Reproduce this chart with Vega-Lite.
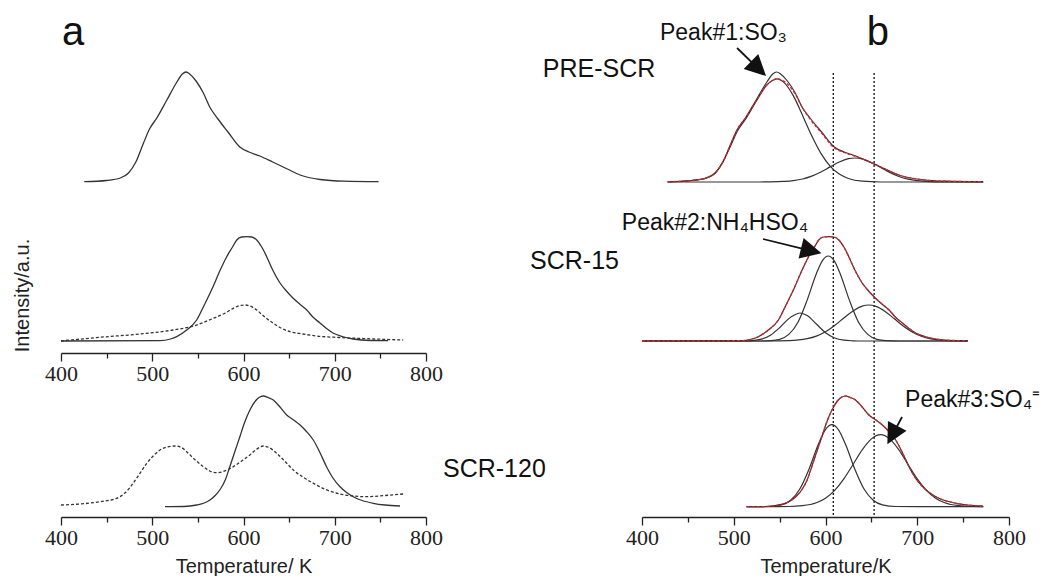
{
  "$schema": "https://vega.github.io/schema/vega-lite/v6.json",
  "padding": {"left": 12, "top": 10, "right": 0, "bottom": 0},
  "background": "white",
  "bounds": "flush",
  "spacing": 216,
  "config": {
    "view": {"stroke": null},
    "font": "Liberation Sans"
  },
  "datasets": {
    "left": [
      {"s": "pre", "k": "solid", "T": 425.5, "I": 335.3},
      {"s": "pre", "k": "solid", "T": 450, "I": 336.5},
      {"s": "pre", "k": "solid", "T": 465, "I": 339},
      {"s": "pre", "k": "solid", "T": 474, "I": 344},
      {"s": "pre", "k": "solid", "T": 482, "I": 355},
      {"s": "pre", "k": "solid", "T": 490, "I": 373},
      {"s": "pre", "k": "solid", "T": 497, "I": 388},
      {"s": "pre", "k": "solid", "T": 505, "I": 399},
      {"s": "pre", "k": "solid", "T": 516, "I": 417},
      {"s": "pre", "k": "solid", "T": 527, "I": 435},
      {"s": "pre", "k": "solid", "T": 533, "I": 443},
      {"s": "pre", "k": "solid", "T": 537, "I": 445},
      {"s": "pre", "k": "solid", "T": 541, "I": 443},
      {"s": "pre", "k": "solid", "T": 548, "I": 436},
      {"s": "pre", "k": "solid", "T": 556, "I": 424},
      {"s": "pre", "k": "solid", "T": 563, "I": 410},
      {"s": "pre", "k": "solid", "T": 572, "I": 398},
      {"s": "pre", "k": "solid", "T": 583, "I": 385},
      {"s": "pre", "k": "solid", "T": 596, "I": 370},
      {"s": "pre", "k": "solid", "T": 606, "I": 365},
      {"s": "pre", "k": "solid", "T": 618, "I": 361},
      {"s": "pre", "k": "solid", "T": 632, "I": 355},
      {"s": "pre", "k": "solid", "T": 648, "I": 348},
      {"s": "pre", "k": "solid", "T": 662, "I": 342},
      {"s": "pre", "k": "solid", "T": 684, "I": 337.5},
      {"s": "pre", "k": "solid", "T": 710, "I": 335.8},
      {"s": "pre", "k": "solid", "T": 748, "I": 335.3},

      {"s": "s15", "k": "solid", "T": 400, "I": 176},
      {"s": "s15", "k": "solid", "T": 508.5, "I": 176.3},
      {"s": "s15", "k": "solid", "T": 520, "I": 178},
      {"s": "s15", "k": "solid", "T": 526.8, "I": 180.3},
      {"s": "s15", "k": "solid", "T": 537.7, "I": 187},
      {"s": "s15", "k": "solid", "T": 548.7, "I": 197},
      {"s": "s15", "k": "solid", "T": 557, "I": 212},
      {"s": "s15", "k": "solid", "T": 566.6, "I": 230.3},
      {"s": "s15", "k": "solid", "T": 574, "I": 246},
      {"s": "s15", "k": "solid", "T": 581.6, "I": 260.3},
      {"s": "s15", "k": "solid", "T": 588, "I": 270},
      {"s": "s15", "k": "solid", "T": 592.6, "I": 277},
      {"s": "s15", "k": "solid", "T": 598, "I": 280},
      {"s": "s15", "k": "solid", "T": 603.5, "I": 280.3},
      {"s": "s15", "k": "solid", "T": 609, "I": 280},
      {"s": "s15", "k": "solid", "T": 614.5, "I": 277},
      {"s": "s15", "k": "solid", "T": 620, "I": 270},
      {"s": "s15", "k": "solid", "T": 625.4, "I": 260.3},
      {"s": "s15", "k": "solid", "T": 632, "I": 247},
      {"s": "s15", "k": "solid", "T": 640, "I": 234},
      {"s": "s15", "k": "solid", "T": 647, "I": 226},
      {"s": "s15", "k": "solid", "T": 654.2, "I": 219},
      {"s": "s15", "k": "solid", "T": 661.5, "I": 213},
      {"s": "s15", "k": "solid", "T": 669.3, "I": 207},
      {"s": "s15", "k": "solid", "T": 676, "I": 200},
      {"s": "s15", "k": "solid", "T": 683.8, "I": 194},
      {"s": "s15", "k": "solid", "T": 691, "I": 188.5},
      {"s": "s15", "k": "solid", "T": 698.1, "I": 184},
      {"s": "s15", "k": "solid", "T": 708, "I": 180.5},
      {"s": "s15", "k": "solid", "T": 720, "I": 178},
      {"s": "s15", "k": "solid", "T": 740, "I": 176.5},
      {"s": "s15", "k": "solid", "T": 758.4, "I": 176.3},

      {"s": "s15d", "k": "dash", "T": 400, "I": 176},
      {"s": "s15d", "k": "dash", "T": 442.7, "I": 179.7},
      {"s": "s15d", "k": "dash", "T": 486.6, "I": 183},
      {"s": "s15d", "k": "dash", "T": 523, "I": 187},
      {"s": "s15d", "k": "dash", "T": 545, "I": 191},
      {"s": "s15d", "k": "dash", "T": 567, "I": 198.7},
      {"s": "s15d", "k": "dash", "T": 580, "I": 204},
      {"s": "s15d", "k": "dash", "T": 588.8, "I": 208.7},
      {"s": "s15d", "k": "dash", "T": 596, "I": 211.5},
      {"s": "s15d", "k": "dash", "T": 601.6, "I": 212},
      {"s": "s15d", "k": "dash", "T": 607, "I": 211},
      {"s": "s15d", "k": "dash", "T": 614.5, "I": 207},
      {"s": "s15d", "k": "dash", "T": 622, "I": 201},
      {"s": "s15d", "k": "dash", "T": 632.7, "I": 193.7},
      {"s": "s15d", "k": "dash", "T": 641, "I": 189},
      {"s": "s15d", "k": "dash", "T": 651, "I": 185.3},
      {"s": "s15d", "k": "dash", "T": 665, "I": 183},
      {"s": "s15d", "k": "dash", "T": 680, "I": 181},
      {"s": "s15d", "k": "dash", "T": 705, "I": 179.5},
      {"s": "s15d", "k": "dash", "T": 735, "I": 178.3},
      {"s": "s15d", "k": "dash", "T": 775, "I": 177},

      {"s": "s120", "k": "solid", "T": 514, "I": 10.3},
      {"s": "s120", "k": "solid", "T": 535, "I": 10.5},
      {"s": "s120", "k": "solid", "T": 548.7, "I": 12},
      {"s": "s120", "k": "solid", "T": 557, "I": 14},
      {"s": "s120", "k": "solid", "T": 563.3, "I": 17},
      {"s": "s120", "k": "solid", "T": 569, "I": 21.5},
      {"s": "s120", "k": "solid", "T": 574, "I": 27},
      {"s": "s120", "k": "solid", "T": 580, "I": 37},
      {"s": "s120", "k": "solid", "T": 585, "I": 50.3},
      {"s": "s120", "k": "solid", "T": 590, "I": 64},
      {"s": "s120", "k": "solid", "T": 596, "I": 80.3},
      {"s": "s120", "k": "solid", "T": 601, "I": 94},
      {"s": "s120", "k": "solid", "T": 607, "I": 107},
      {"s": "s120", "k": "solid", "T": 613, "I": 116},
      {"s": "s120", "k": "solid", "T": 617, "I": 119.5},
      {"s": "s120", "k": "solid", "T": 621.7, "I": 121},
      {"s": "s120", "k": "solid", "T": 627, "I": 119.5},
      {"s": "s120", "k": "solid", "T": 632.7, "I": 117},
      {"s": "s120", "k": "solid", "T": 640, "I": 110},
      {"s": "s120", "k": "solid", "T": 647.3, "I": 102},
      {"s": "s120", "k": "solid", "T": 655, "I": 97},
      {"s": "s120", "k": "solid", "T": 662, "I": 92},
      {"s": "s120", "k": "solid", "T": 669, "I": 85.5},
      {"s": "s120", "k": "solid", "T": 676.5, "I": 77},
      {"s": "s120", "k": "solid", "T": 684, "I": 64},
      {"s": "s120", "k": "solid", "T": 691, "I": 50.3},
      {"s": "s120", "k": "solid", "T": 698, "I": 39},
      {"s": "s120", "k": "solid", "T": 705.8, "I": 30.3},
      {"s": "s120", "k": "solid", "T": 713, "I": 24.5},
      {"s": "s120", "k": "solid", "T": 720.3, "I": 20.3},
      {"s": "s120", "k": "solid", "T": 730, "I": 16.5},
      {"s": "s120", "k": "solid", "T": 742.3, "I": 13.7},
      {"s": "s120", "k": "solid", "T": 755, "I": 12},
      {"s": "s120", "k": "solid", "T": 771.5, "I": 11},

      {"s": "s120d", "k": "dash", "T": 400, "I": 12},
      {"s": "s120d", "k": "dash", "T": 442.7, "I": 15.3},
      {"s": "s120d", "k": "dash", "T": 461, "I": 18.7},
      {"s": "s120d", "k": "dash", "T": 470, "I": 24},
      {"s": "s120d", "k": "dash", "T": 479, "I": 33.7},
      {"s": "s120d", "k": "dash", "T": 486, "I": 43},
      {"s": "s120d", "k": "dash", "T": 494, "I": 53.7},
      {"s": "s120d", "k": "dash", "T": 501, "I": 61},
      {"s": "s120d", "k": "dash", "T": 508.5, "I": 67},
      {"s": "s120d", "k": "dash", "T": 516, "I": 70},
      {"s": "s120d", "k": "dash", "T": 525, "I": 71},
      {"s": "s120d", "k": "dash", "T": 532, "I": 69.5},
      {"s": "s120d", "k": "dash", "T": 537.7, "I": 65.3},
      {"s": "s120d", "k": "dash", "T": 546, "I": 58},
      {"s": "s120d", "k": "dash", "T": 556, "I": 50.3},
      {"s": "s120d", "k": "dash", "T": 563, "I": 46},
      {"s": "s120d", "k": "dash", "T": 570.6, "I": 44.3},
      {"s": "s120d", "k": "dash", "T": 578, "I": 45.5},
      {"s": "s120d", "k": "dash", "T": 588.8, "I": 50.3},
      {"s": "s120d", "k": "dash", "T": 598, "I": 56},
      {"s": "s120d", "k": "dash", "T": 607, "I": 62},
      {"s": "s120d", "k": "dash", "T": 614, "I": 67.5},
      {"s": "s120d", "k": "dash", "T": 621.7, "I": 71},
      {"s": "s120d", "k": "dash", "T": 628, "I": 69.5},
      {"s": "s120d", "k": "dash", "T": 636.4, "I": 63.7},
      {"s": "s120d", "k": "dash", "T": 645, "I": 56},
      {"s": "s120d", "k": "dash", "T": 654.6, "I": 47},
      {"s": "s120d", "k": "dash", "T": 665, "I": 40},
      {"s": "s120d", "k": "dash", "T": 676.5, "I": 33.7},
      {"s": "s120d", "k": "dash", "T": 690, "I": 27.5},
      {"s": "s120d", "k": "dash", "T": 705.8, "I": 23},
      {"s": "s120d", "k": "dash", "T": 720, "I": 21},
      {"s": "s120d", "k": "dash", "T": 735, "I": 20.3},
      {"s": "s120d", "k": "dash", "T": 755, "I": 21.5},
      {"s": "s120d", "k": "dash", "T": 775, "I": 23}
    ],
    "right": [
      {"s": "m1", "k": "meas", "T": 428.0, "I": 335.3},
      {"s": "m1", "k": "meas", "T": 454.1, "I": 336.5},
      {"s": "m1", "k": "meas", "T": 470.1, "I": 339},
      {"s": "m1", "k": "meas", "T": 479.7, "I": 344},
      {"s": "m1", "k": "meas", "T": 488.2, "I": 355},
      {"s": "m1", "k": "meas", "T": 496.7, "I": 373},
      {"s": "m1", "k": "meas", "T": 504.1, "I": 388},
      {"s": "m1", "k": "meas", "T": 512.7, "I": 399},
      {"s": "m1", "k": "meas", "T": 524.4, "I": 417},
      {"s": "m1", "k": "meas", "T": 536.1, "I": 435},
      {"s": "m1", "k": "meas", "T": 542.5, "I": 443},
      {"s": "m1", "k": "meas", "T": 546.7, "I": 445},
      {"s": "m1", "k": "meas", "T": 551.0, "I": 443},
      {"s": "m1", "k": "meas", "T": 558.5, "I": 436},
      {"s": "m1", "k": "meas", "T": 567.0, "I": 424},
      {"s": "m1", "k": "meas", "T": 574.4, "I": 410},
      {"s": "m1", "k": "meas", "T": 584.0, "I": 398},
      {"s": "m1", "k": "meas", "T": 595.7, "I": 385},
      {"s": "m1", "k": "meas", "T": 609.6, "I": 370},
      {"s": "m1", "k": "meas", "T": 620.3, "I": 365},
      {"s": "m1", "k": "meas", "T": 633.1, "I": 361},
      {"s": "m1", "k": "meas", "T": 648.0, "I": 355},
      {"s": "m1", "k": "meas", "T": 665.0, "I": 348},
      {"s": "m1", "k": "meas", "T": 679.9, "I": 342},
      {"s": "m1", "k": "meas", "T": 703.3, "I": 337.5},
      {"s": "m1", "k": "meas", "T": 731.0, "I": 335.8},
      {"s": "m1", "k": "meas", "T": 771.5, "I": 335.3},

      {"s": "f1", "k": "fit", "T": 428.0, "I": 335.3},
      {"s": "f1", "k": "fit", "T": 454.1, "I": 336.5},
      {"s": "f1", "k": "fit", "T": 470.1, "I": 339},
      {"s": "f1", "k": "fit", "T": 479.7, "I": 344},
      {"s": "f1", "k": "fit", "T": 488.2, "I": 355},
      {"s": "f1", "k": "fit", "T": 496.7, "I": 373},
      {"s": "f1", "k": "fit", "T": 504.1, "I": 388},
      {"s": "f1", "k": "fit", "T": 512.7, "I": 399},
      {"s": "f1", "k": "fit", "T": 524.4, "I": 416},
      {"s": "f1", "k": "fit", "T": 536.1, "I": 432},
      {"s": "f1", "k": "fit", "T": 542.5, "I": 436.5},
      {"s": "f1", "k": "fit", "T": 547, "I": 438.3},
      {"s": "f1", "k": "fit", "T": 551.0, "I": 437.5},
      {"s": "f1", "k": "fit", "T": 558.5, "I": 433},
      {"s": "f1", "k": "fit", "T": 567.0, "I": 423},
      {"s": "f1", "k": "fit", "T": 574.4, "I": 410},
      {"s": "f1", "k": "fit", "T": 584.0, "I": 397},
      {"s": "f1", "k": "fit", "T": 595.7, "I": 384},
      {"s": "f1", "k": "fit", "T": 609.6, "I": 369},
      {"s": "f1", "k": "fit", "T": 620.3, "I": 364.5},
      {"s": "f1", "k": "fit", "T": 633.1, "I": 360.5},
      {"s": "f1", "k": "fit", "T": 648.0, "I": 355},
      {"s": "f1", "k": "fit", "T": 665.0, "I": 348},
      {"s": "f1", "k": "fit", "T": 679.9, "I": 342},
      {"s": "f1", "k": "fit", "T": 703.3, "I": 337.5},
      {"s": "f1", "k": "fit", "T": 731.0, "I": 335.8},
      {"s": "f1", "k": "fit", "T": 771.5, "I": 335.3},

      {"s": "c1a", "k": "comp", "T": 428, "I": 335},
      {"s": "c1a", "k": "comp", "T": 454, "I": 336.5},
      {"s": "c1a", "k": "comp", "T": 470, "I": 339},
      {"s": "c1a", "k": "comp", "T": 480, "I": 344},
      {"s": "c1a", "k": "comp", "T": 488, "I": 355},
      {"s": "c1a", "k": "comp", "T": 497, "I": 372},
      {"s": "c1a", "k": "comp", "T": 504, "I": 386},
      {"s": "c1a", "k": "comp", "T": 513, "I": 398},
      {"s": "c1a", "k": "comp", "T": 524, "I": 415},
      {"s": "c1a", "k": "comp", "T": 536, "I": 432},
      {"s": "c1a", "k": "comp", "T": 542, "I": 436.5},
      {"s": "c1a", "k": "comp", "T": 547, "I": 438.2},
      {"s": "c1a", "k": "comp", "T": 555, "I": 434.4},
      {"s": "c1a", "k": "comp", "T": 565, "I": 421.1},
      {"s": "c1a", "k": "comp", "T": 575, "I": 401.6},
      {"s": "c1a", "k": "comp", "T": 585, "I": 381.2},
      {"s": "c1a", "k": "comp", "T": 595, "I": 363.6},
      {"s": "c1a", "k": "comp", "T": 605, "I": 350.9},
      {"s": "c1a", "k": "comp", "T": 615, "I": 342.9},
      {"s": "c1a", "k": "comp", "T": 625, "I": 338.5},
      {"s": "c1a", "k": "comp", "T": 640, "I": 335.8},
      {"s": "c1a", "k": "comp", "T": 660, "I": 335},
      {"s": "c1a", "k": "comp", "T": 772, "I": 335},

      {"s": "c1b", "k": "comp", "T": 428, "I": 335},
      {"s": "c1b", "k": "comp", "T": 520, "I": 335},
      {"s": "c1b", "k": "comp", "T": 540, "I": 335.1},
      {"s": "c1b", "k": "comp", "T": 555, "I": 335.6},
      {"s": "c1b", "k": "comp", "T": 565, "I": 336.4},
      {"s": "c1b", "k": "comp", "T": 575, "I": 338},
      {"s": "c1b", "k": "comp", "T": 585, "I": 340.9},
      {"s": "c1b", "k": "comp", "T": 595, "I": 345},
      {"s": "c1b", "k": "comp", "T": 605, "I": 350.1},
      {"s": "c1b", "k": "comp", "T": 615, "I": 355},
      {"s": "c1b", "k": "comp", "T": 625, "I": 358.3},
      {"s": "c1b", "k": "comp", "T": 632, "I": 359},
      {"s": "c1b", "k": "comp", "T": 640, "I": 358},
      {"s": "c1b", "k": "comp", "T": 650, "I": 354.5},
      {"s": "c1b", "k": "comp", "T": 660, "I": 349.6},
      {"s": "c1b", "k": "comp", "T": 670, "I": 344.6},
      {"s": "c1b", "k": "comp", "T": 680, "I": 340.5},
      {"s": "c1b", "k": "comp", "T": 690, "I": 337.8},
      {"s": "c1b", "k": "comp", "T": 700, "I": 336.3},
      {"s": "c1b", "k": "comp", "T": 720, "I": 335.2},
      {"s": "c1b", "k": "comp", "T": 772, "I": 335},

      {"s": "m2", "k": "meas", "T": 400, "I": 176},
      {"s": "m2", "k": "meas", "T": 508.5, "I": 176.3},
      {"s": "m2", "k": "meas", "T": 520, "I": 178},
      {"s": "m2", "k": "meas", "T": 526.8, "I": 180.3},
      {"s": "m2", "k": "meas", "T": 537.7, "I": 187},
      {"s": "m2", "k": "meas", "T": 548.7, "I": 197},
      {"s": "m2", "k": "meas", "T": 557, "I": 212},
      {"s": "m2", "k": "meas", "T": 566.6, "I": 230.3},
      {"s": "m2", "k": "meas", "T": 574, "I": 246},
      {"s": "m2", "k": "meas", "T": 581.6, "I": 260.3},
      {"s": "m2", "k": "meas", "T": 588, "I": 270},
      {"s": "m2", "k": "meas", "T": 592.6, "I": 277},
      {"s": "m2", "k": "meas", "T": 598, "I": 280},
      {"s": "m2", "k": "meas", "T": 603.5, "I": 280.3},
      {"s": "m2", "k": "meas", "T": 609, "I": 280},
      {"s": "m2", "k": "meas", "T": 614.5, "I": 277},
      {"s": "m2", "k": "meas", "T": 620, "I": 270},
      {"s": "m2", "k": "meas", "T": 625.4, "I": 260.3},
      {"s": "m2", "k": "meas", "T": 632, "I": 247},
      {"s": "m2", "k": "meas", "T": 640, "I": 234},
      {"s": "m2", "k": "meas", "T": 647, "I": 226},
      {"s": "m2", "k": "meas", "T": 654.2, "I": 219},
      {"s": "m2", "k": "meas", "T": 661.5, "I": 213},
      {"s": "m2", "k": "meas", "T": 669.3, "I": 207},
      {"s": "m2", "k": "meas", "T": 676, "I": 200},
      {"s": "m2", "k": "meas", "T": 683.8, "I": 194},
      {"s": "m2", "k": "meas", "T": 691, "I": 188.5},
      {"s": "m2", "k": "meas", "T": 698.1, "I": 184},
      {"s": "m2", "k": "meas", "T": 708, "I": 180.5},
      {"s": "m2", "k": "meas", "T": 720, "I": 178},
      {"s": "m2", "k": "meas", "T": 740, "I": 176.5},
      {"s": "m2", "k": "meas", "T": 755, "I": 176.3},

      {"s": "f2", "k": "fit", "T": 400, "I": 176},
      {"s": "f2", "k": "fit", "T": 508.5, "I": 176.3},
      {"s": "f2", "k": "fit", "T": 520, "I": 178},
      {"s": "f2", "k": "fit", "T": 526.8, "I": 180.3},
      {"s": "f2", "k": "fit", "T": 537.7, "I": 187},
      {"s": "f2", "k": "fit", "T": 548.7, "I": 197},
      {"s": "f2", "k": "fit", "T": 557, "I": 212},
      {"s": "f2", "k": "fit", "T": 566.6, "I": 230.3},
      {"s": "f2", "k": "fit", "T": 574, "I": 246},
      {"s": "f2", "k": "fit", "T": 581.6, "I": 260.3},
      {"s": "f2", "k": "fit", "T": 588, "I": 270},
      {"s": "f2", "k": "fit", "T": 592.6, "I": 277},
      {"s": "f2", "k": "fit", "T": 598, "I": 280},
      {"s": "f2", "k": "fit", "T": 603.5, "I": 280.3},
      {"s": "f2", "k": "fit", "T": 609, "I": 280},
      {"s": "f2", "k": "fit", "T": 614.5, "I": 277},
      {"s": "f2", "k": "fit", "T": 620, "I": 270},
      {"s": "f2", "k": "fit", "T": 625.4, "I": 260.3},
      {"s": "f2", "k": "fit", "T": 632, "I": 247},
      {"s": "f2", "k": "fit", "T": 640, "I": 234},
      {"s": "f2", "k": "fit", "T": 647, "I": 226},
      {"s": "f2", "k": "fit", "T": 654.2, "I": 219},
      {"s": "f2", "k": "fit", "T": 661.5, "I": 213},
      {"s": "f2", "k": "fit", "T": 669.3, "I": 207},
      {"s": "f2", "k": "fit", "T": 676, "I": 200},
      {"s": "f2", "k": "fit", "T": 683.8, "I": 194},
      {"s": "f2", "k": "fit", "T": 691, "I": 188.5},
      {"s": "f2", "k": "fit", "T": 698.1, "I": 184},
      {"s": "f2", "k": "fit", "T": 708, "I": 180.5},
      {"s": "f2", "k": "fit", "T": 720, "I": 178},
      {"s": "f2", "k": "fit", "T": 740, "I": 176.5},
      {"s": "f2", "k": "fit", "T": 755, "I": 176.3},

      {"s": "c2a", "k": "comp", "T": 400, "I": 176},
      {"s": "c2a", "k": "comp", "T": 510, "I": 176},
      {"s": "c2a", "k": "comp", "T": 520, "I": 176.4},
      {"s": "c2a", "k": "comp", "T": 530, "I": 177.8},
      {"s": "c2a", "k": "comp", "T": 540, "I": 181.8},
      {"s": "c2a", "k": "comp", "T": 550, "I": 189.3},
      {"s": "c2a", "k": "comp", "T": 560, "I": 198.4},
      {"s": "c2a", "k": "comp", "T": 566, "I": 202},
      {"s": "c2a", "k": "comp", "T": 572, "I": 204},
      {"s": "c2a", "k": "comp", "T": 580, "I": 201.4},
      {"s": "c2a", "k": "comp", "T": 590, "I": 193},
      {"s": "c2a", "k": "comp", "T": 600, "I": 184.3},
      {"s": "c2a", "k": "comp", "T": 610, "I": 179},
      {"s": "c2a", "k": "comp", "T": 620, "I": 176.8},
      {"s": "c2a", "k": "comp", "T": 630, "I": 176.2},
      {"s": "c2a", "k": "comp", "T": 640, "I": 176},
      {"s": "c2a", "k": "comp", "T": 755, "I": 176},

      {"s": "c2b", "k": "comp", "T": 400, "I": 176},
      {"s": "c2b", "k": "comp", "T": 530, "I": 176},
      {"s": "c2b", "k": "comp", "T": 540, "I": 176.35},
      {"s": "c2b", "k": "comp", "T": 550, "I": 177.7},
      {"s": "c2b", "k": "comp", "T": 560, "I": 182.6},
      {"s": "c2b", "k": "comp", "T": 570, "I": 194.8},
      {"s": "c2b", "k": "comp", "T": 580, "I": 216.9},
      {"s": "c2b", "k": "comp", "T": 590, "I": 243.3},
      {"s": "c2b", "k": "comp", "T": 597, "I": 256.9},
      {"s": "c2b", "k": "comp", "T": 603, "I": 261},
      {"s": "c2b", "k": "comp", "T": 609, "I": 256.9},
      {"s": "c2b", "k": "comp", "T": 616, "I": 243.3},
      {"s": "c2b", "k": "comp", "T": 626, "I": 216.9},
      {"s": "c2b", "k": "comp", "T": 636, "I": 194.8},
      {"s": "c2b", "k": "comp", "T": 646, "I": 182.6},
      {"s": "c2b", "k": "comp", "T": 656, "I": 177.7},
      {"s": "c2b", "k": "comp", "T": 666, "I": 176.35},
      {"s": "c2b", "k": "comp", "T": 680, "I": 176},
      {"s": "c2b", "k": "comp", "T": 755, "I": 176},

      {"s": "c2c", "k": "comp", "T": 400, "I": 176},
      {"s": "c2c", "k": "comp", "T": 540, "I": 176},
      {"s": "c2c", "k": "comp", "T": 560, "I": 176.3},
      {"s": "c2c", "k": "comp", "T": 580, "I": 178.3},
      {"s": "c2c", "k": "comp", "T": 590, "I": 180.9},
      {"s": "c2c", "k": "comp", "T": 600, "I": 185.2},
      {"s": "c2c", "k": "comp", "T": 610, "I": 191.5},
      {"s": "c2c", "k": "comp", "T": 620, "I": 199},
      {"s": "c2c", "k": "comp", "T": 630, "I": 206.1},
      {"s": "c2c", "k": "comp", "T": 640, "I": 210.9},
      {"s": "c2c", "k": "comp", "T": 647, "I": 212},
      {"s": "c2c", "k": "comp", "T": 655, "I": 210.6},
      {"s": "c2c", "k": "comp", "T": 665, "I": 205.5},
      {"s": "c2c", "k": "comp", "T": 675, "I": 198.2},
      {"s": "c2c", "k": "comp", "T": 685, "I": 190.8},
      {"s": "c2c", "k": "comp", "T": 695, "I": 184.7},
      {"s": "c2c", "k": "comp", "T": 705, "I": 180.5},
      {"s": "c2c", "k": "comp", "T": 715, "I": 178.1},
      {"s": "c2c", "k": "comp", "T": 730, "I": 176.5},
      {"s": "c2c", "k": "comp", "T": 755, "I": 176},

      {"s": "m3", "k": "meas", "T": 514, "I": 10.3},
      {"s": "m3", "k": "meas", "T": 535, "I": 10.5},
      {"s": "m3", "k": "meas", "T": 548.7, "I": 12},
      {"s": "m3", "k": "meas", "T": 557, "I": 14},
      {"s": "m3", "k": "meas", "T": 563.3, "I": 17},
      {"s": "m3", "k": "meas", "T": 569, "I": 21.5},
      {"s": "m3", "k": "meas", "T": 574, "I": 27},
      {"s": "m3", "k": "meas", "T": 580, "I": 37},
      {"s": "m3", "k": "meas", "T": 585, "I": 50.3},
      {"s": "m3", "k": "meas", "T": 590, "I": 64},
      {"s": "m3", "k": "meas", "T": 596, "I": 80.3},
      {"s": "m3", "k": "meas", "T": 601, "I": 94},
      {"s": "m3", "k": "meas", "T": 607, "I": 107},
      {"s": "m3", "k": "meas", "T": 613, "I": 116},
      {"s": "m3", "k": "meas", "T": 617, "I": 119.5},
      {"s": "m3", "k": "meas", "T": 621.7, "I": 121},
      {"s": "m3", "k": "meas", "T": 627, "I": 119.5},
      {"s": "m3", "k": "meas", "T": 632.7, "I": 117},
      {"s": "m3", "k": "meas", "T": 640, "I": 110},
      {"s": "m3", "k": "meas", "T": 647.3, "I": 102},
      {"s": "m3", "k": "meas", "T": 655, "I": 97},
      {"s": "m3", "k": "meas", "T": 662, "I": 92},
      {"s": "m3", "k": "meas", "T": 669, "I": 85.5},
      {"s": "m3", "k": "meas", "T": 676.5, "I": 77},
      {"s": "m3", "k": "meas", "T": 684, "I": 64},
      {"s": "m3", "k": "meas", "T": 691, "I": 50.3},
      {"s": "m3", "k": "meas", "T": 698, "I": 39},
      {"s": "m3", "k": "meas", "T": 705.8, "I": 30.3},
      {"s": "m3", "k": "meas", "T": 713, "I": 24.5},
      {"s": "m3", "k": "meas", "T": 720.3, "I": 20.3},
      {"s": "m3", "k": "meas", "T": 730, "I": 16.5},
      {"s": "m3", "k": "meas", "T": 742.3, "I": 13.7},
      {"s": "m3", "k": "meas", "T": 755, "I": 12},
      {"s": "m3", "k": "meas", "T": 771.5, "I": 11},

      {"s": "f3", "k": "fit", "T": 514, "I": 10.3},
      {"s": "f3", "k": "fit", "T": 535, "I": 10.5},
      {"s": "f3", "k": "fit", "T": 548.7, "I": 12},
      {"s": "f3", "k": "fit", "T": 557, "I": 14},
      {"s": "f3", "k": "fit", "T": 563.3, "I": 17},
      {"s": "f3", "k": "fit", "T": 569, "I": 21.5},
      {"s": "f3", "k": "fit", "T": 574, "I": 27},
      {"s": "f3", "k": "fit", "T": 580, "I": 37},
      {"s": "f3", "k": "fit", "T": 585, "I": 50.3},
      {"s": "f3", "k": "fit", "T": 590, "I": 64},
      {"s": "f3", "k": "fit", "T": 596, "I": 80.3},
      {"s": "f3", "k": "fit", "T": 601, "I": 94},
      {"s": "f3", "k": "fit", "T": 607, "I": 107},
      {"s": "f3", "k": "fit", "T": 613, "I": 116},
      {"s": "f3", "k": "fit", "T": 617, "I": 119.5},
      {"s": "f3", "k": "fit", "T": 621.7, "I": 121},
      {"s": "f3", "k": "fit", "T": 627, "I": 119.5},
      {"s": "f3", "k": "fit", "T": 632.7, "I": 117},
      {"s": "f3", "k": "fit", "T": 640, "I": 110},
      {"s": "f3", "k": "fit", "T": 647.3, "I": 102},
      {"s": "f3", "k": "fit", "T": 655, "I": 97},
      {"s": "f3", "k": "fit", "T": 662, "I": 92},
      {"s": "f3", "k": "fit", "T": 669, "I": 85.5},
      {"s": "f3", "k": "fit", "T": 676.5, "I": 77},
      {"s": "f3", "k": "fit", "T": 684, "I": 64},
      {"s": "f3", "k": "fit", "T": 691, "I": 50.3},
      {"s": "f3", "k": "fit", "T": 698, "I": 39},
      {"s": "f3", "k": "fit", "T": 705.8, "I": 30.3},
      {"s": "f3", "k": "fit", "T": 713, "I": 24.5},
      {"s": "f3", "k": "fit", "T": 720.3, "I": 20.3},
      {"s": "f3", "k": "fit", "T": 730, "I": 16.5},
      {"s": "f3", "k": "fit", "T": 742.3, "I": 13.7},
      {"s": "f3", "k": "fit", "T": 755, "I": 12},
      {"s": "f3", "k": "fit", "T": 771.5, "I": 11},

      {"s": "c3a", "k": "comp", "T": 514, "I": 10.3},
      {"s": "c3a", "k": "comp", "T": 537, "I": 10.5},
      {"s": "c3a", "k": "comp", "T": 552, "I": 12.2},
      {"s": "c3a", "k": "comp", "T": 562, "I": 16.8},
      {"s": "c3a", "k": "comp", "T": 572, "I": 28},
      {"s": "c3a", "k": "comp", "T": 582, "I": 47.8},
      {"s": "c3a", "k": "comp", "T": 592, "I": 72.2},
      {"s": "c3a", "k": "comp", "T": 600, "I": 87.4},
      {"s": "c3a", "k": "comp", "T": 607, "I": 92.3},
      {"s": "c3a", "k": "comp", "T": 614, "I": 87.4},
      {"s": "c3a", "k": "comp", "T": 622, "I": 72.2},
      {"s": "c3a", "k": "comp", "T": 632, "I": 47.8},
      {"s": "c3a", "k": "comp", "T": 642, "I": 28},
      {"s": "c3a", "k": "comp", "T": 652, "I": 16.8},
      {"s": "c3a", "k": "comp", "T": 662, "I": 12.2},
      {"s": "c3a", "k": "comp", "T": 677, "I": 10.5},
      {"s": "c3a", "k": "comp", "T": 700, "I": 10.3},
      {"s": "c3a", "k": "comp", "T": 772, "I": 10.3},

      {"s": "c3b", "k": "comp", "T": 514, "I": 10.3},
      {"s": "c3b", "k": "comp", "T": 560, "I": 10.5},
      {"s": "c3b", "k": "comp", "T": 575, "I": 11.3},
      {"s": "c3b", "k": "comp", "T": 590, "I": 14.2},
      {"s": "c3b", "k": "comp", "T": 600, "I": 18.8},
      {"s": "c3b", "k": "comp", "T": 610, "I": 26.6},
      {"s": "c3b", "k": "comp", "T": 620, "I": 38.1},
      {"s": "c3b", "k": "comp", "T": 630, "I": 52.5},
      {"s": "c3b", "k": "comp", "T": 640, "I": 67.1},
      {"s": "c3b", "k": "comp", "T": 650, "I": 78.1},
      {"s": "c3b", "k": "comp", "T": 660, "I": 82.3},
      {"s": "c3b", "k": "comp", "T": 670, "I": 78.1},
      {"s": "c3b", "k": "comp", "T": 680, "I": 67.1},
      {"s": "c3b", "k": "comp", "T": 690, "I": 52.5},
      {"s": "c3b", "k": "comp", "T": 700, "I": 38.1},
      {"s": "c3b", "k": "comp", "T": 710, "I": 26.6},
      {"s": "c3b", "k": "comp", "T": 720, "I": 18.8},
      {"s": "c3b", "k": "comp", "T": 730, "I": 14.2},
      {"s": "c3b", "k": "comp", "T": 745, "I": 11.3},
      {"s": "c3b", "k": "comp", "T": 760, "I": 10.5},
      {"s": "c3b", "k": "comp", "T": 772, "I": 10.35}
    ]
  },
  "hconcat": [
    {
      "width": 365,
      "height": 507,
      "resolve": {"axis": {"x": "independent", "y": "independent"}},
      "layer": [
        {
          "data": {"name": "left"},
          "transform": [{"filter": "datum.k === 'solid'"}],
          "mark": {"type": "line", "interpolate": "monotone", "stroke": "#333", "strokeWidth": 1.3},
          "encoding": {
            "x": {"field": "T", "type": "quantitative", "scale": {"domain": [400, 800], "nice": false, "zero": false},
                  "axis": {"orient": "bottom", "title": "Temperature/ K",
                           "values": [400, 450, 500, 550, 600, 650, 700, 750, 800],
                           "labelExpr": "datum.value % 100 === 0 ? datum.label : ''",
                           "tickSize": {"condition": {"test": "datum.value % 100 === 0", "value": 8}, "value": 5},
                           "labelFont": "Liberation Serif", "labelFontSize": 22, "labelColor": "#222", "labelPadding": 2,
                           "labelFlush": false, "labelOverlap": false,
                           "domainColor": "#222", "tickColor": "#222", "domainWidth": 1.3, "tickWidth": 1.3, "grid": false,
                           "titleFont": "Liberation Sans", "titleFontSize": 20, "titleFontWeight": "normal", "titleColor": "#222", "titlePadding": 8}},
            "y": {"field": "I", "type": "quantitative", "scale": {"domain": [0, 507], "nice": false, "zero": false},
                  "axis": {"title": "Intensity/a.u.", "labels": false, "ticks": false, "domain": false, "grid": false,
                           "titleFont": "Liberation Sans", "titleFontSize": 20, "titleFontWeight": "normal", "titleColor": "#222",
                           "titleAngle": -90, "titleAlign": "center", "titleBaseline": "middle", "titleX": -39, "titleY": 285}},
            "detail": {"field": "s"}
          }
        },
        {
          "data": {"name": "left"},
          "transform": [{"filter": "datum.k === 'dash'"}],
          "mark": {"type": "line", "interpolate": "monotone", "stroke": "#333", "strokeWidth": 1.3, "strokeDash": [3, 2]},
          "encoding": {
            "x": {"field": "T", "type": "quantitative",
                  "axis": {"orient": "bottom", "title": null, "offset": -164,
                           "values": [400, 450, 500, 550, 600, 650, 700, 750, 800],
                           "labelExpr": "datum.value % 100 === 0 ? datum.label : ''",
                           "tickSize": {"condition": {"test": "datum.value % 100 === 0", "value": 8}, "value": 5},
                           "labelFont": "Liberation Serif", "labelFontSize": 22, "labelColor": "#222", "labelPadding": 2,
                           "labelFlush": false, "labelOverlap": false,
                           "domainColor": "#222", "tickColor": "#222", "domainWidth": 1.3, "tickWidth": 1.3, "grid": false}},
            "y": {"field": "I", "type": "quantitative", "axis": null},
            "detail": {"field": "s"}
          }
        },
        {
          "data": {"values": [{"t": "a", "T": 401, "I": 472}]},
          "mark": {"type": "text", "font": "Liberation Sans", "fontSize": 40, "align": "left", "baseline": "alphabetic", "color": "#111"},
          "encoding": {
            "x": {"field": "T", "type": "quantitative", "axis": null},
            "y": {"field": "I", "type": "quantitative", "axis": null},
            "text": {"field": "t"}
          }
        },
        {
          "data": {"values": [
            {"t": "PRE-SCR", "T": 928, "I": 440},
            {"t": "SCR-15", "T": 914, "I": 248},
            {"t": "SCR-120", "T": 818.6, "I": 40}
          ]},
          "mark": {"type": "text", "font": "Liberation Sans", "fontSize": 25, "align": "left", "baseline": "alphabetic", "color": "#111"},
          "encoding": {
            "x": {"field": "T", "type": "quantitative", "axis": null},
            "y": {"field": "I", "type": "quantitative", "axis": null},
            "text": {"field": "t"}
          }
        }
      ]
    },
    {
      "width": 367,
      "height": 507,
      "resolve": {"axis": {"x": "independent", "y": "independent"}},
      "layer": [
        {
          "data": {"values": [{"T": 608.5}, {"T": 653}]},
          "mark": {"type": "rule", "stroke": "#111", "strokeWidth": 1.3, "strokeDash": [2, 2]},
          "encoding": {
            "x": {"field": "T", "type": "quantitative", "scale": {"domain": [400, 800], "nice": false, "zero": false}, "axis": null},
            "y": {"datum": 444, "type": "quantitative", "scale": {"domain": [0, 507], "nice": false, "zero": false}, "axis": null},
            "y2": {"datum": 0}
          }
        },
        {
          "data": {"name": "right"},
          "transform": [{"filter": "datum.k !== 'fit'"}],
          "mark": {"type": "line", "interpolate": "monotone", "stroke": "#333", "strokeWidth": 1.2},
          "encoding": {
            "x": {"field": "T", "type": "quantitative",
                  "axis": {"orient": "bottom", "title": "Temperature/K",
                           "values": [400, 450, 500, 550, 600, 650, 700, 750, 800],
                           "labelExpr": "datum.value % 100 === 0 ? datum.label : ''",
                           "tickSize": {"condition": {"test": "datum.value % 100 === 0", "value": 8}, "value": 5},
                           "labelFont": "Liberation Serif", "labelFontSize": 22, "labelColor": "#222", "labelPadding": 2,
                           "labelFlush": false, "labelOverlap": false,
                           "domainColor": "#222", "tickColor": "#222", "domainWidth": 1.3, "tickWidth": 1.3, "grid": false,
                           "titleFont": "Liberation Sans", "titleFontSize": 20, "titleFontWeight": "normal", "titleColor": "#222", "titlePadding": 8}},
            "y": {"field": "I", "type": "quantitative", "axis": null},
            "detail": {"field": "s"}
          }
        },
        {
          "data": {"name": "right"},
          "transform": [{"filter": "datum.k === 'fit'"}],
          "mark": {"type": "line", "interpolate": "monotone", "stroke": "#e3202a", "strokeWidth": 1.3, "strokeDash": [3, 2]},
          "encoding": {
            "x": {"field": "T", "type": "quantitative", "axis": null},
            "y": {"field": "I", "type": "quantitative", "axis": null},
            "detail": {"field": "s"}
          }
        },
        {
          "data": {"values": [{"t": "b", "T": 645, "I": 472}]},
          "mark": {"type": "text", "font": "Liberation Sans", "fontSize": 40, "align": "left", "baseline": "alphabetic", "color": "#111"},
          "encoding": {
            "x": {"field": "T", "type": "quantitative", "axis": null},
            "y": {"field": "I", "type": "quantitative", "axis": null},
            "text": {"field": "t"}
          }
        },
        {
          "data": {"values": [
            {"t": "Peak#1:SO₃", "T": 419.6, "I": 477},
            {"t": "Peak#2:NH₄HSO₄", "T": 378, "I": 287},
            {"t": "Peak#3:SO₄⁼", "T": 686.7, "I": 110.3}
          ]},
          "mark": {"type": "text", "font": "Liberation Sans", "fontSize": 23, "align": "left", "baseline": "alphabetic", "color": "#111"},
          "encoding": {
            "x": {"field": "T", "type": "quantitative", "axis": null},
            "y": {"field": "I", "type": "quantitative", "axis": null},
            "text": {"field": "t"}
          }
        },
        {
          "data": {"values": [
            {"T1": 503.6, "I1": 469, "T2": 527, "I2": 448.2},
            {"T1": 531.9, "I1": 278, "T2": 584.5, "I2": 266.2},
            {"T1": 683.4, "I1": 100, "T2": 672.8, "I2": 81.9}
          ]},
          "mark": {"type": "rule", "stroke": "#111", "strokeWidth": 1.8},
          "encoding": {
            "x": {"field": "T1", "type": "quantitative", "axis": null},
            "y": {"field": "I1", "type": "quantitative", "axis": null},
            "x2": {"field": "T2"},
            "y2": {"field": "I2"}
          }
        },
        {
          "data": {"values": [{"T": 527, "I": 448.2}]},
          "mark": {"type": "point", "shape": "M0,-1L1,1L-1,1Z", "size": 441, "angle": 134, "filled": true, "color": "#111", "opacity": 1, "strokeWidth": 0},
          "encoding": {
            "x": {"field": "T", "type": "quantitative", "axis": null},
            "y": {"field": "I", "type": "quantitative", "axis": null}
          }
        },
        {
          "data": {"values": [{"T": 584.5, "I": 266.2}]},
          "mark": {"type": "point", "shape": "M0,-1L1,1L-1,1Z", "size": 441, "angle": 104, "filled": true, "color": "#111", "opacity": 1, "strokeWidth": 0},
          "encoding": {
            "x": {"field": "T", "type": "quantitative", "axis": null},
            "y": {"field": "I", "type": "quantitative", "axis": null}
          }
        },
        {
          "data": {"values": [{"T": 672.8, "I": 81.9}]},
          "mark": {"type": "point", "shape": "M0,-1L1,1L-1,1Z", "size": 441, "angle": 208, "filled": true, "color": "#111", "opacity": 1, "strokeWidth": 0},
          "encoding": {
            "x": {"field": "T", "type": "quantitative", "axis": null},
            "y": {"field": "I", "type": "quantitative", "axis": null}
          }
        }
      ]
    }
  ]
}
